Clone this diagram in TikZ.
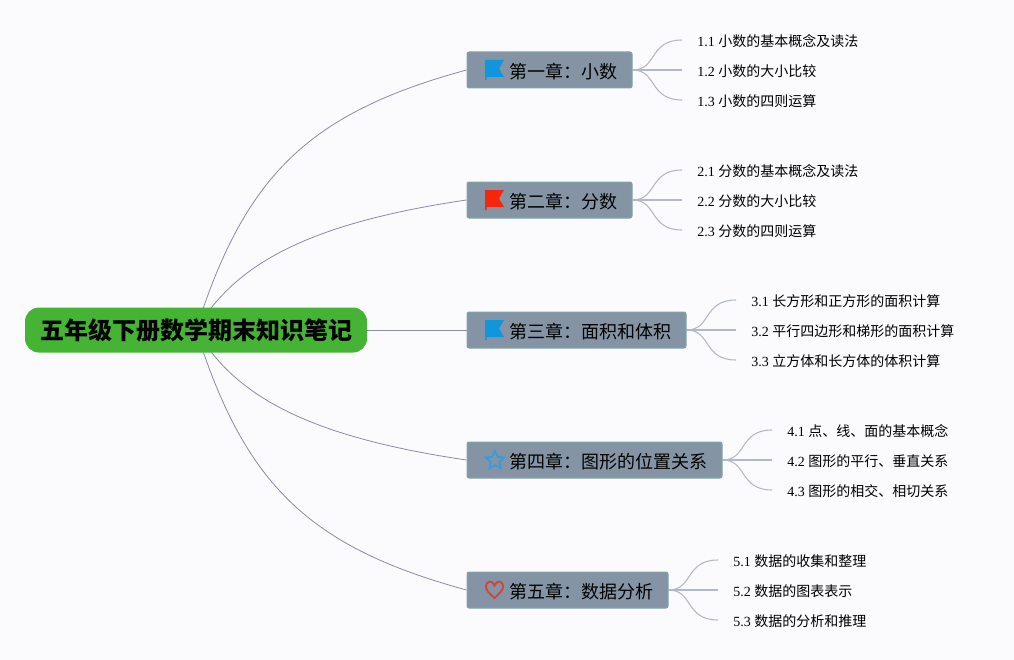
\documentclass[tikz,border=0pt]{standalone}
\usepackage{fontspec}
\setmainfont{Liberation Serif}
\newfontfamily\cjk{Noto Sans CJK SC}
\usetikzlibrary{backgrounds,shapes.geometric}
\definecolor{pagebg}{HTML}{FBFBFD}
\definecolor{rootgreen}{HTML}{45B334}
\definecolor{chapterfill}{HTML}{8494A5}
\definecolor{chapteredge}{HTML}{7FA6A6}
\definecolor{mainline}{HTML}{8A8CA5}
\definecolor{subline}{HTML}{B4B8C4}
\definecolor{flagblue}{HTML}{1296DB}
\definecolor{flagred}{HTML}{F5260C}
\definecolor{starblue}{HTML}{3A9BDC}
\definecolor{heartred}{HTML}{D0453A}
\tikzset{
    rootbox/.style={fill=rootgreen, rounded corners=10.5pt, minimum height=33.75pt, inner xsep=11.25pt, inner ysep=0pt, font=\cjk\bfseries\fontsize{18}{18}\selectfont, anchor=center},
    chapterbox/.style={fill=chapterfill, draw=chapteredge, line width=0.75pt, rounded corners=1.5pt, minimum height=27pt, inner xsep=11.25pt, inner ysep=0pt, text height=13pt, text depth=0.7pt, anchor=west, font=\cjk\fontsize{13.5}{13.5}\selectfont},
    leafbox/.style={anchor=west, inner xsep=11.25pt, inner ysep=0pt, text height=11pt, text depth=1.5pt, font=\fontsize{10.5}{10.5}\selectfont},
    mainlink/.style={mainline, line width=0.6pt},
    sublink/.style={subline, line width=0.8pt},
    midlink/.style={subline, line width=1.2pt},
}
% room for the icon in front of the chapter title
\newcommand{\iconroom}{\hspace*{20.25pt}}
\newcommand{\flagicon}[3]{\fill[#3] (#1, #2) ++(0, -10) -- ++(19, 0) -- ++(-5, 8.5) -- ++(5, 8.5) -- ++(-17.5, 0) -- ++(0, 3) -- ++(-1.5, 0) -- cycle;}
\begin{document}
\begin{tikzpicture}[x=0.75pt, y=-0.75pt]
    \useasboundingbox (0, 0) rectangle (1014, 660);
    \node[rootbox] (root) at (196, 330) {五年级下册数学期末知识笔记};

    \node[chapterbox] (ch1) at (466.5, 70) {\iconroom 第一章：小数};
    \node[chapterbox] (ch2) at (466.5, 200) {\iconroom 第二章：分数};
    \node[chapterbox] (ch3) at (466.5, 330) {\iconroom 第三章：面积和体积};
    \node[chapterbox] (ch4) at (466.5, 460) {\iconroom 第四章：图形的位置关系};
    \node[chapterbox] (ch5) at (466.5, 590) {\iconroom 第五章：数据分析};

    \node[leafbox] (s11) at (682, 40) {1.1 {\cjk 小数的基本概念及读法}};
    \node[leafbox] (s12) at (682, 70) {1.2 {\cjk 小数的大小比较}};
    \node[leafbox] (s13) at (682, 100) {1.3 {\cjk 小数的四则运算}};
    \node[leafbox] (s21) at (682, 170) {2.1 {\cjk 分数的基本概念及读法}};
    \node[leafbox] (s22) at (682, 200) {2.2 {\cjk 分数的大小比较}};
    \node[leafbox] (s23) at (682, 230) {2.3 {\cjk 分数的四则运算}};
    \node[leafbox] (s31) at (736, 300) {3.1 {\cjk 长方形和正方形的面积计算}};
    \node[leafbox] (s32) at (736, 330) {3.2 {\cjk 平行四边形和梯形的面积计算}};
    \node[leafbox] (s33) at (736, 360) {3.3 {\cjk 立方体和长方体的体积计算}};
    \node[leafbox] (s41) at (772, 430) {4.1 {\cjk 点、线、面的基本概念}};
    \node[leafbox] (s42) at (772, 460) {4.2 {\cjk 图形的平行、垂直关系}};
    \node[leafbox] (s43) at (772, 490) {4.3 {\cjk 图形的相交、相切关系}};
    \node[leafbox] (s51) at (718, 560) {5.1 {\cjk 数据的收集和整理}};
    \node[leafbox] (s52) at (718, 590) {5.2 {\cjk 数据的图表表示}};
    \node[leafbox] (s53) at (718, 620) {5.3 {\cjk 数据的分析和推理}};

    % icons
    \flagicon{485}{70}{flagblue}
    \flagicon{485}{200}{flagred}
    \flagicon{485}{330}{flagblue}
    \node[star, star points=5, star point ratio=2.1, draw=starblue, line width=1.4pt, minimum size=14.5pt, inner sep=0pt] (star4) at (495, 460.5) {};
    \draw[heartred, line width=1.4pt] (494.5, 598) .. controls (489, 593) and (486, 590) .. (486, 587) .. controls (486, 580) and (492.5, 580) .. (494.5, 585.5) .. controls (496.5, 580) and (503, 580) .. (503, 587) .. controls (503, 590) and (500, 593) .. (494.5, 598) -- cycle;

    \begin{pgfonlayer}{background}
        \fill[pagebg] (0, 0) rectangle (1014, 660);
        \draw[mainlink] (root.center) .. controls (245, 175) and (309, 113) .. (ch1.west);
        \draw[mainlink] (root.center) .. controls (232, 270) and (296, 225) .. (ch2.west);
        \draw[mainlink] (root.center) -- (ch3.west);
        \draw[mainlink] (root.center) .. controls (232, 390) and (296, 435) .. (ch4.west);
        \draw[mainlink] (root.center) .. controls (245, 485) and (309, 547) .. (ch5.west);

        \foreach \chap/\up/\mid/\low in {ch1/s11/s12/s13, ch2/s21/s22/s23, ch3/s31/s32/s33, ch4/s41/s42/s43, ch5/s51/s52/s53} {
            \draw[sublink] (\chap.east) .. controls +(25, 0) and ([xshift=-25]\up.west) .. (\up.west);
            \draw[midlink] (\chap.east) -- (\mid.west);
            \draw[sublink] (\chap.east) .. controls +(25, 0) and ([xshift=-25]\low.west) .. (\low.west);
        }
    \end{pgfonlayer}
\end{tikzpicture}
\end{document}
